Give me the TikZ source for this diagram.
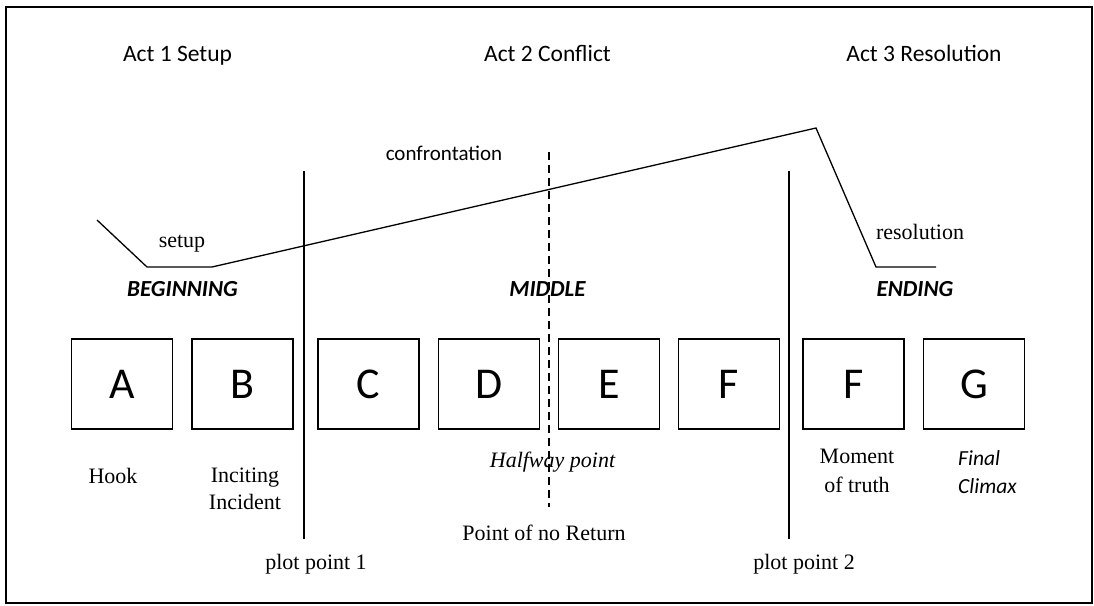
\documentclass[tikz,border=0pt]{standalone}
\usepackage{fontspec}
\setmainfont{Liberation Serif}
\newfontfamily\calib{Carlito}
\begin{document}
\begin{tikzpicture}[x=1pt,y=-1pt,
  framebox/.style={draw, line width=1.8pt},
  letterbox/.style={draw, line width=1.5pt, minimum width=101pt, minimum height=90pt, inner sep=0pt,
    font=\calib\fontsize{44}{44}\selectfont},
  acttext/.style={font=\calib\fontsize{23.5}{28}\selectfont, anchor=base, inner sep=0pt},
  phasetext/.style={font=\calib\bfseries\itshape\fontsize{23}{28}\selectfont, anchor=base, inner sep=0pt},
  seriftext/.style={font=\fontsize{22}{28}\selectfont, anchor=base, inner sep=0pt},
  sanslabel/.style={font=\calib\fontsize{21}{28}\selectfont, anchor=base, inner sep=0pt},
  plotline/.style={line width=1.3pt, line join=miter},
  divider/.style={line width=1.8pt},
  halfline/.style={line width=1.6pt, dash pattern=on 8pt off 5pt}
]
\useasboundingbox (0,0) rectangle (1094,605);
\draw[framebox] (6,7) rectangle (1092,603);

% act titles
\node[acttext] (act1) at (177.5,61) {Act 1 Setup};
\node[acttext] (act2) at (547.5,61) {Act 2 Conflict};
\node[acttext] (act3) at (924,61) {Act 3 Resolution};

% plot curve
\coordinate (c1) at (97,220);
\coordinate (c2) at (147,267);
\coordinate (c3) at (212,267);
\coordinate (c4) at (816,128);
\coordinate (c5) at (876,267);
\coordinate (c6) at (936,267);
\draw[plotline] (c1) -- (c2) -- (c3) -- (c4) -- (c5) -- (c6);

\node[seriftext] (setup) at (182,247) {setup};
\node[sanslabel] (confr) at (444,160) {confrontation};
\node[seriftext] (resol) at (920,239) {resolution};

% phases
\node[phasetext] (beg) at (182.5,296) {BEGINNING};
\node[phasetext] (mid) at (547.5,296) {MIDDLE};
\node[phasetext] (end) at (915,296) {ENDING};

% boxes
\node[letterbox] (bA) at (122,384) {A};
\node[letterbox] (bB) at (242.5,384) {B};
\node[letterbox] (bC) at (368.5,384) {C};
\node[letterbox] (bD) at (489,384) {D};
\node[letterbox] (bE) at (609,384) {E};
\node[letterbox] (bF) at (729,384) {F};
\node[letterbox] (bF2) at (853.5,384) {F};
\node[letterbox] (bG) at (974,384) {G};

% labels
\node[seriftext] (hook) at (113,483) {Hook};
\node[seriftext] (incite) at (245,482) {\begin{tabular}[t]{@{}c@{}}Inciting\\[-1pt]Incident\end{tabular}};
\node[seriftext] (pp1) at (316,569) {plot point 1};
\node[seriftext, font=\itshape\fontsize{22}{28}\selectfont] (half) at (552.5,467) {Halfway point};
\node[seriftext] (ponr) at (544,540) {Point of no Return};
\node[seriftext] (moment) at (857,463) {\begin{tabular}[t]{@{}c@{}}Moment\\[1pt]of truth\end{tabular}};
\node[sanslabel, font=\calib\itshape\fontsize{21.5}{28}\selectfont, anchor=base west] (final) at (958,465) {\begin{tabular}[t]{@{}l@{}}Final\\Climax\end{tabular}};
\node[seriftext] (pp2) at (804,569) {plot point 2};

% dividers
\coordinate (d1t) at (304,171);
\coordinate (d1b) at (304,539);
\coordinate (d2t) at (789,171);
\coordinate (d2b) at (789,539);
\coordinate (hft) at (549,152);
\coordinate (hfb) at (549,507);
\draw[divider] (d1t) -- (d1b);
\draw[divider] (d2t) -- (d2b);
\draw[halfline] (hft) -- (hfb);
\end{tikzpicture}
\end{document}
